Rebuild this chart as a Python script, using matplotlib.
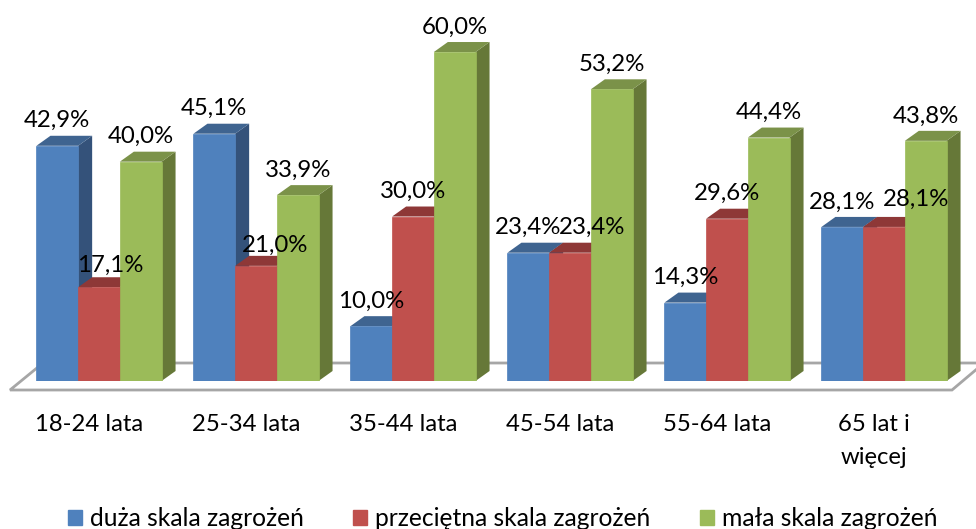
import matplotlib
matplotlib.use("Agg")
import matplotlib.pyplot as plt
from matplotlib.patches import Polygon, Patch

plt.rcParams['font.family'] = ['Lato', 'DejaVu Sans']

categories = ['18-24 lata', '25-34 lata', '35-44 lata', '45-54 lata', '55-64 lata', '65 lat i\nwięcej']
duza = [42.9, 45.1, 10.0, 23.4, 14.3, 28.1]
przecietna = [17.1, 21.0, 30.0, 23.4, 29.6, 28.1]
mala = [40.0, 33.9, 60.0, 53.2, 44.4, 43.8]
series_names = ['duża skala zagrożeń', 'przeciętna skala zagrożeń', 'mała skala zagrożeń']
series = [duza, przecietna, mala]

front = ['#4F81BD', '#C0504D', '#9BBB59']
side = ['#34527A', '#7C3230', '#667838']
top = ['#3F6490', '#8E3837', '#7B9249']

W, H = 976, 529
base_px = 381
px_per_pct = 5.483
group_px = 157
first_px = 99
bar_px = 41.7
depth_x, depth_y = 14, 10

# label nudges in pixels where the original labels were moved off their bars
nudge = {(1, 0): (11, -3), (1, 1): (19, -4), (1, 3): (22, 0), (1, 5): (32, 3)}

fig = plt.figure(figsize=(W / 100, H / 100), dpi=100)
ax = fig.add_axes([0, (H - base_px) / H, 1, base_px / H])
ax.set_xlim(-first_px / group_px, (W - first_px) / group_px)
ax.set_ylim(0, base_px / px_per_pct)

x_unit = 1 / group_px
y_unit = 1 / px_per_pct
w = bar_px * x_unit
dx = depth_x * x_unit
dy = depth_y * y_unit


def to_data(px, py):
    return (px - first_px) * x_unit, (base_px - py) * y_unit


# floor, sticks out under the axes so no clipping
floor = [to_data(10, 390), to_data(952, 390), to_data(984, 363), to_data(43, 363)]
ax.add_patch(Polygon(floor, closed=True, facecolor='white', edgecolor='#A6A6A6', lw=2.0,
                     clip_on=False, zorder=1))
ax.patch.set_visible(False)

for j, values in enumerate(series):
    z = 2 + j
    positions = [i + (j - 1) * w for i in range(len(values))]
    for x, v in zip(positions, values):
        r = x + w / 2
        l = x - w / 2
        ax.add_patch(Polygon([(r, 0), (r + dx, dy), (r + dx, v + dy), (r, v)],
                             facecolor=side[j], edgecolor='none', zorder=z))
        ax.add_patch(Polygon([(l, v), (l + dx, v + dy), (r + dx, v + dy), (r, v)],
                             facecolor=top[j], edgecolor='none', zorder=z))
    ax.bar(positions, values, width=w, color=front[j], edgecolor=front[j], lw=0.5, zorder=z + 0.5)
    for i, (x, v) in enumerate(zip(positions, values)):
        ox, oy = nudge.get((j, i), (0, 0))
        ax.annotate(f'{v:.1f}%'.replace('.', ','), (x, v),
                    xytext=(ox * 0.72, (25 + oy) * 0.72), textcoords='offset points',
                    ha='center', va='center', fontsize=17.3, color='black', zorder=10,
                    annotation_clip=False)

for s in ax.spines.values():
    s.set_visible(False)
ax.set_yticks([])
ax.set_xticks([i - 10 * x_unit for i in range(len(categories))])
ax.set_xticklabels(categories, fontsize=17.2, linespacing=1.7)
ax.tick_params(axis='x', length=0, pad=24)

handles = [Patch(color=c, label=n) for c, n in zip(front, series_names)]
fig.legend(handles=handles, ncols=3, loc='lower center', bbox_to_anchor=(0.515, -0.044),
           frameon=False, fontsize=17.7, handlelength=0.57, handleheight=0.62,
           handletextpad=0.33, columnspacing=2.0)

fig.savefig('out.png', dpi=100)
